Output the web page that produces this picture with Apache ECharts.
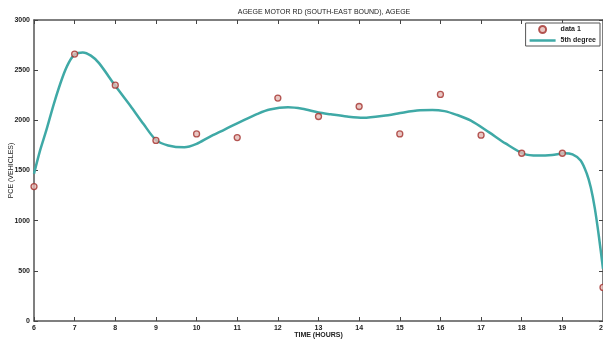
<!DOCTYPE html>
<html>
<head>
<meta charset="utf-8">
<script src="https://cdn.jsdelivr.net/npm/echarts@6/dist/echarts.min.js"></script>
<style>
  html, body { margin: 0; padding: 0; background: #fff; }
  #chart { width: 603px; height: 342px; filter: blur(0.35px); }
</style>
</head>
<body>
<div id="chart"></div>
<script>
// Hourly PCE counts, Agege Motor Rd (south-east bound)
const hours = [6, 7, 8, 9, 10, 11, 12, 13, 14, 15, 16, 17, 18, 19, 20];
const pce = [1340, 2660, 2350, 1800, 1865, 1828, 2222, 2038, 2138, 1865, 2258, 1852, 1672, 1672, 335];

// Fitted trend curve
const fitHours = [6.0, 6.15, 6.3, 6.5, 6.7, 6.85, 7.0, 7.2, 7.4, 7.6, 8.0, 8.4, 8.7, 9.0, 9.3, 9.7, 10.0, 10.3, 10.7, 11.15, 11.5, 11.8, 12.25, 12.6, 13.0, 13.3, 13.7, 14.1, 14.6, 15.1, 15.5, 15.8, 16.1, 16.4, 16.75, 17.2, 17.6, 18.05, 18.4, 18.75, 19.05, 19.25, 19.45, 19.6, 19.7, 19.8, 19.9, 20.0];
const fitPce = [1467, 1700, 1897, 2180, 2427, 2570, 2655, 2677, 2645, 2570, 2344, 2129, 1960, 1805, 1750, 1731, 1765, 1831, 1910, 2000, 2065, 2108, 2130, 2115, 2078, 2060, 2038, 2025, 2045, 2079, 2100, 2104, 2092, 2055, 1997, 1880, 1770, 1666, 1649, 1655, 1672, 1660, 1600, 1470, 1330, 1120, 840, 520];

const txt = { fontFamily: 'Liberation Sans', fontSize: 7, color: '#222', fontWeight: 'bold' };
const axisLine = { show: true, onZero: false, lineStyle: { color: '#555', width: 1.5 } };
const tick = { show: true, inside: true, length: 4, lineStyle: { color: '#444', width: 1 } };
const lineColor = '#3fa9a6';

// Thick line sample for the legend, kept in a 26x7 box
const lineIcon = 'path://M0,0 L0.01,0 L0.01,0.01 Z M0,2.3 L26,2.3 L26,4.7 L0,4.7 Z M26,7 L25.99,7 L25.99,6.99 Z';

const chart = echarts.init(document.getElementById('chart'), null, { renderer: 'canvas' });
chart.setOption({
  animation: false,
  backgroundColor: '#fff',
  title: {
    text: 'AGEGE MOTOR RD (SOUTH-EAST BOUND), AGEGE',
    left: 319, top: 4, textAlign: 'center',
    textStyle: Object.assign({}, txt, { fontWeight: 'normal' })
  },
  legend: {
    orient: 'vertical',
    right: 3, top: 23,
    itemWidth: 26, itemHeight: 7, itemGap: 3,
    padding: [2, 4, 2, 4],
    borderColor: '#555', borderWidth: 1, backgroundColor: '#fff',
    textStyle: txt,
    data: [
      { name: 'data 1', icon: 'circle' },
      { name: '5th degree', icon: lineIcon }
    ]
  },
  grid: { left: 34, right: 0, top: 20, bottom: 21, outerBoundsMode: 'none', containLabel: false },
  xAxis: [{
    type: 'value', min: 6, max: 20, interval: 1,
    name: 'TIME (HOURS)', nameLocation: 'middle', nameGap: 11, nameMoveOverlap: false,
    nameTextStyle: txt,
    axisLine: axisLine, axisTick: tick,
    axisLabel: Object.assign({ margin: 4, formatter: v => String(v) }, txt),
    splitLine: { show: false }
  }, {
    type: 'value', min: 6, max: 20, interval: 1, position: 'top',
    axisLine: axisLine, axisTick: tick,
    axisLabel: { show: false }, splitLine: { show: false }
  }],
  yAxis: [{
    type: 'value', min: 0, max: 3000, interval: 500,
    name: 'PCE (VEHICLES)', nameLocation: 'middle', nameGap: 19, nameMoveOverlap: false,
    nameTextStyle: Object.assign({}, txt, { fontWeight: 'normal' }),
    axisLine: axisLine, axisTick: tick,
    axisLabel: Object.assign({ margin: 4, formatter: v => String(v) }, txt),
    splitLine: { show: false }
  }, {
    type: 'value', min: 0, max: 3000, interval: 500, position: 'right',
    axisLine: axisLine, axisTick: tick,
    axisLabel: { show: false }, splitLine: { show: false }
  }],
  series: [{
    name: '5th degree',
    type: 'line',
    data: fitHours.map((h, i) => [h, fitPce[i]]),
    smooth: 0.3,
    showSymbol: false,
    lineStyle: { color: lineColor, width: 2.5 },
    itemStyle: { color: lineColor },
    z: 2
  }, {
    name: 'data 1',
    type: 'scatter',
    data: hours.map((h, i) => [h, pce[i]]),
    symbol: 'circle',
    symbolSize: 6,
    itemStyle: { color: '#e3b9b4', borderColor: '#a3302c', borderWidth: 1.3 },
    z: 3
  }]
});
</script>
</body>
</html>
